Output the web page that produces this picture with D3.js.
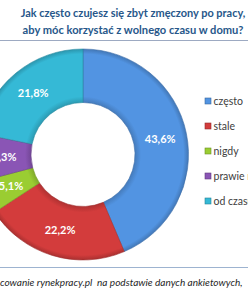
<!DOCTYPE html>
<html><head><meta charset="utf-8">
<script src="https://cdn.jsdelivr.net/npm/d3@7"></script>
<style>html,body{margin:0;padding:0;background:#fff;overflow:hidden}</style>
</head><body>
<svg id="c" width="248" height="300"></svg>
<script>
const categories = ["często", "stale", "nigdy", "prawie nigdy", "od czasu do czasu"];
const values = [43.6, 22.2, 5.1, 7.3, 21.8];
const valueLabels = ["43,6%", "22,2%", "5,1%", "7,3%", "21,8%"];
const colors = ["#5294E2", "#D33C3C", "#9ACD32", "#8A55B5", "#35B9D6"];
const titleLines = ["Jak często czujesz się zbyt zmęczony po pracy,", "aby móc korzystać z wolnego czasu w domu?"];
const footerPrefix = "Opra";
const footerRest = "cowanie rynekpracy.pl\u00A0\u00A0na podstawie danych ankietowych,";

const svg = d3.select("#c");
const font = "Lato, 'Open Sans', sans-serif";

// title
const titleWidths = [225, 221];
svg.selectAll("text.title").data(titleLines).enter().append("text").attr("class","title")
  .attr("x", 133).attr("y", (d,i)=>17+i*17)
  .attr("text-anchor","middle").attr("font-family", font).attr("font-weight","bold")
  .attr("font-size", 12).attr("fill","#27578A").text(d=>d)
  .each(function(d,i){
    const w = this.getComputedTextLength();
    d3.select(this).attr("font-size", 12*titleWidths[i]/w);
  });
svg.append("line").attr("x1",0).attr("x2",248).attr("y1",40.5).attr("y2",40.5)
  .attr("stroke","#9DAAC2").attr("stroke-width",1.2);

// donut
const cx = 83, cy = 154.5, R = 105.5, r0 = 52;
const pie = d3.pie().sort(null).value(d=>d)(values);
const arc = d3.arc().innerRadius(r0).outerRadius(R);
const g = svg.append("g").attr("transform",`translate(${cx},${cy})`);
const defs = svg.append("defs");
colors.forEach((c,i)=>{
  const gr = defs.append("radialGradient").attr("id","g"+i).attr("gradientUnits","userSpaceOnUse")
    .attr("cx",0).attr("cy",0).attr("r",R);
  gr.append("stop").attr("offset", r0/R).attr("stop-color", d3.color(c).darker(0.5));
  gr.append("stop").attr("offset", (r0+6)/R).attr("stop-color", c);
  gr.append("stop").attr("offset", (R-5)/R).attr("stop-color", c);
  gr.append("stop").attr("offset", 1).attr("stop-color", d3.color(c).darker(0.6));
});
g.selectAll("path").data(pie).enter().append("path")
  .attr("d", arc).attr("fill",(d,i)=>`url(#g${i})`)
  .attr("stroke", (d,i)=>d3.color(colors[i]).darker(0.8)).attr("stroke-width",0.6);
const lab = d3.arc().innerRadius((R+r0)/2).outerRadius((R+r0)/2);
g.selectAll("text").data(pie).enter().append("text")
  .attr("transform", d=>`translate(${lab.centroid(d)})`)
  .attr("text-anchor","middle").attr("dy","0.35em")
  .attr("font-family", font).attr("font-weight","bold").attr("font-size",11)
  .attr("fill","#fff").text((d,i)=>valueLabels[i]);

// legend
const lg = svg.append("g");
const li = lg.selectAll("g").data(categories).enter().append("g")
  .attr("transform",(d,i)=>`translate(205,${101+i*25})`);
li.append("rect").attr("x",0).attr("y",-3).attr("width",6).attr("height",6)
  .attr("fill",(d,i)=>colors[i]).attr("stroke",(d,i)=>d3.color(colors[i]).darker(1)).attr("stroke-width",0.6);
li.append("text").attr("x",8.5).attr("dy","0.35em").attr("font-family",font)
  .attr("font-size",10.5).attr("fill","#404040").text(d=>d);

// footer
svg.append("line").attr("x1",0).attr("x2",248).attr("y1",267.5).attr("y2",267.5)
  .attr("stroke","#9DB3D0").attr("stroke-width",1);
const ft = svg.append("text").attr("y",286)
  .attr("font-family",font).attr("font-style","italic").attr("font-size",10.5)
  .attr("fill","#262626");
const pre = ft.append("tspan").text(footerPrefix);
const rest = ft.append("tspan").text(footerRest);
const wRest = rest.node().getComputedTextLength();
const fs = 10.5*243/wRest;
ft.attr("font-size", fs);
const wPre = pre.node().getComputedTextLength();
ft.attr("x", -wPre);
</script>
</body></html>
